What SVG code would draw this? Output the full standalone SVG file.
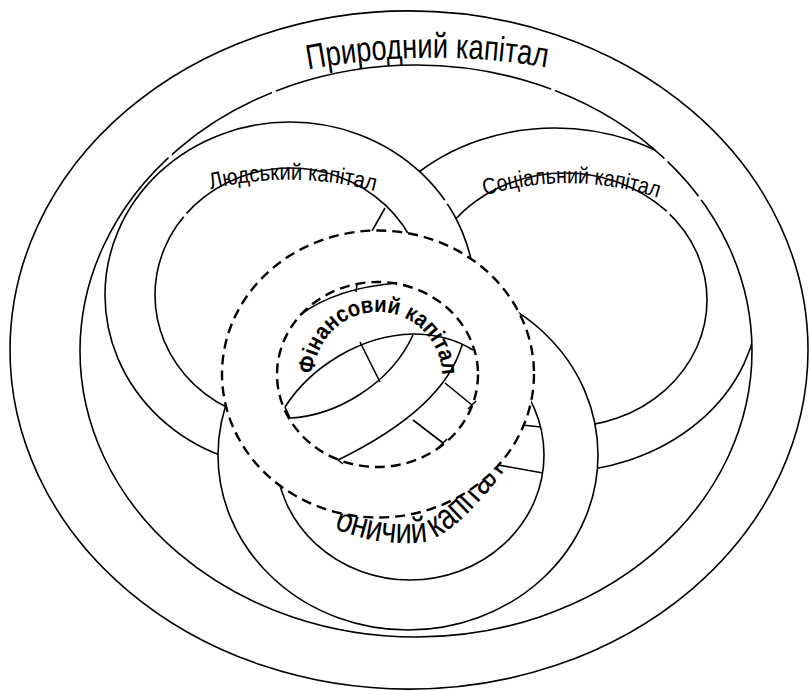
<svg xmlns="http://www.w3.org/2000/svg" width="810" height="691" viewBox="0 0 810 691">
<defs>
<style>
.s{fill:none;stroke:#000;stroke-width:1.6}
.w{fill:#fff;stroke:#000;stroke-width:1.6}
.dw{fill:#fff;stroke:#000;stroke-width:2.4;stroke-dasharray:10 6}
.dn{fill:none;stroke:#000;stroke-width:2.4;stroke-dasharray:10 6}
.gap{fill:#fff;stroke:none}
.t{font-family:"Liberation Sans",Arial,sans-serif;fill:#000}
</style>
<path id="pNat" d="M 300,71 Q 432,45 560,70"/>
<path id="pHum" d="M 204,191 Q 292,167 386,194"/>
<path id="pSoc" d="M 480,197 Q 570,168 665,200"/>
<path id="pMan" d="M 300,420 L 300,488.3 M 334,528 C 360,540 395,546 425,542 C 447,535 472,514 508,466"/>
<path id="pFin" d="M 314,376 A 64 64 0 0 1 442,376"/>
</defs>
<rect width="810" height="691" fill="#fff"/>

<g id="social-capital">
<ellipse class="w" cx="555" cy="300" rx="203.5" ry="172"/>
<ellipse class="s" cx="565" cy="300" rx="142" ry="127"/>
<circle class="gap" cx="668" cy="213" r="2.2"/>
<text class="t" font-size="23"><textPath href="#pSoc" startOffset="5" textLength="176" lengthAdjust="spacingAndGlyphs">Соціальний капітал</textPath></text>
</g>

<g id="human-capital">
<ellipse class="w" cx="290" cy="295" rx="185" ry="173"/>
<ellipse class="s" cx="290" cy="295" rx="135" ry="127"/>
<path class="s" d="M 372,231 L 385,208"/>
<circle class="gap" cx="446" cy="202" r="2.2"/>
<circle class="gap" cx="185" cy="215" r="2.2"/>
<text class="t" font-size="23"><textPath href="#pHum" startOffset="7" textLength="166" lengthAdjust="spacingAndGlyphs">Людський капітал</textPath></text>
</g>

<g id="manufactured-capital">
<ellipse class="w" cx="408" cy="455" rx="190" ry="175"/>
<ellipse class="s" cx="410" cy="455" rx="134" ry="125"/>
<path class="s" d="M 522,425 L 541,427 M 498,465 L 543,473"/>
<text class="t" font-size="36"><textPath href="#pMan" textLength="270" lengthAdjust="spacingAndGlyphs">Виробничий капітал</textPath></text>
</g>

<g id="financial-capital">
<ellipse class="dw" cx="378" cy="374" rx="156" ry="143.5"/>
<ellipse class="dn" cx="377.5" cy="374.5" rx="100.5" ry="92.5"/>
<path class="s" d="M 300,315 C 320,300 350,287 397,283 M 357,284 L 356,292 M 285,407 C 310,368 360,335 413,334 C 440,334 460,342 473,350 M 285,407 L 290,418 M 290,418 C 335,416 390,385 413,335 M 360,342 L 380,382 M 462,345 C 452,380 420,420 338,460 M 338,460 L 343,464 M 445,383 L 472,405 M 468,409 L 476,401 M 413,420 L 443,443 M 439,447 L 447,439"/>
<text class="t" font-size="23" font-weight="bold"><textPath href="#pFin" startOffset="2" textLength="198" lengthAdjust="spacingAndGlyphs">Фінансовий капітал</textPath></text>
</g>

<g id="natural-capital">
<path fill="#fff" fill-rule="evenodd" stroke="#000" stroke-width="1.6" d="M 10,350 A 399 339 0 1 0 808,350 A 399 339 0 1 0 10,350 Z M 80,351 A 336 286 0 1 0 752,351 A 336 286 0 1 0 80,351 Z"/>
<circle class="gap" cx="274" cy="92" r="2.2"/>
<circle class="gap" cx="553" cy="90" r="2.2"/>
<circle class="gap" cx="170" cy="156" r="2.2"/>
<circle class="gap" cx="666" cy="160" r="2.2"/>
<circle class="gap" cx="700" cy="198" r="2.2"/>
<text class="t" font-size="35"><textPath href="#pNat" startOffset="8" textLength="240" lengthAdjust="spacingAndGlyphs">Природний капітал</textPath></text>
</g>
</svg>
